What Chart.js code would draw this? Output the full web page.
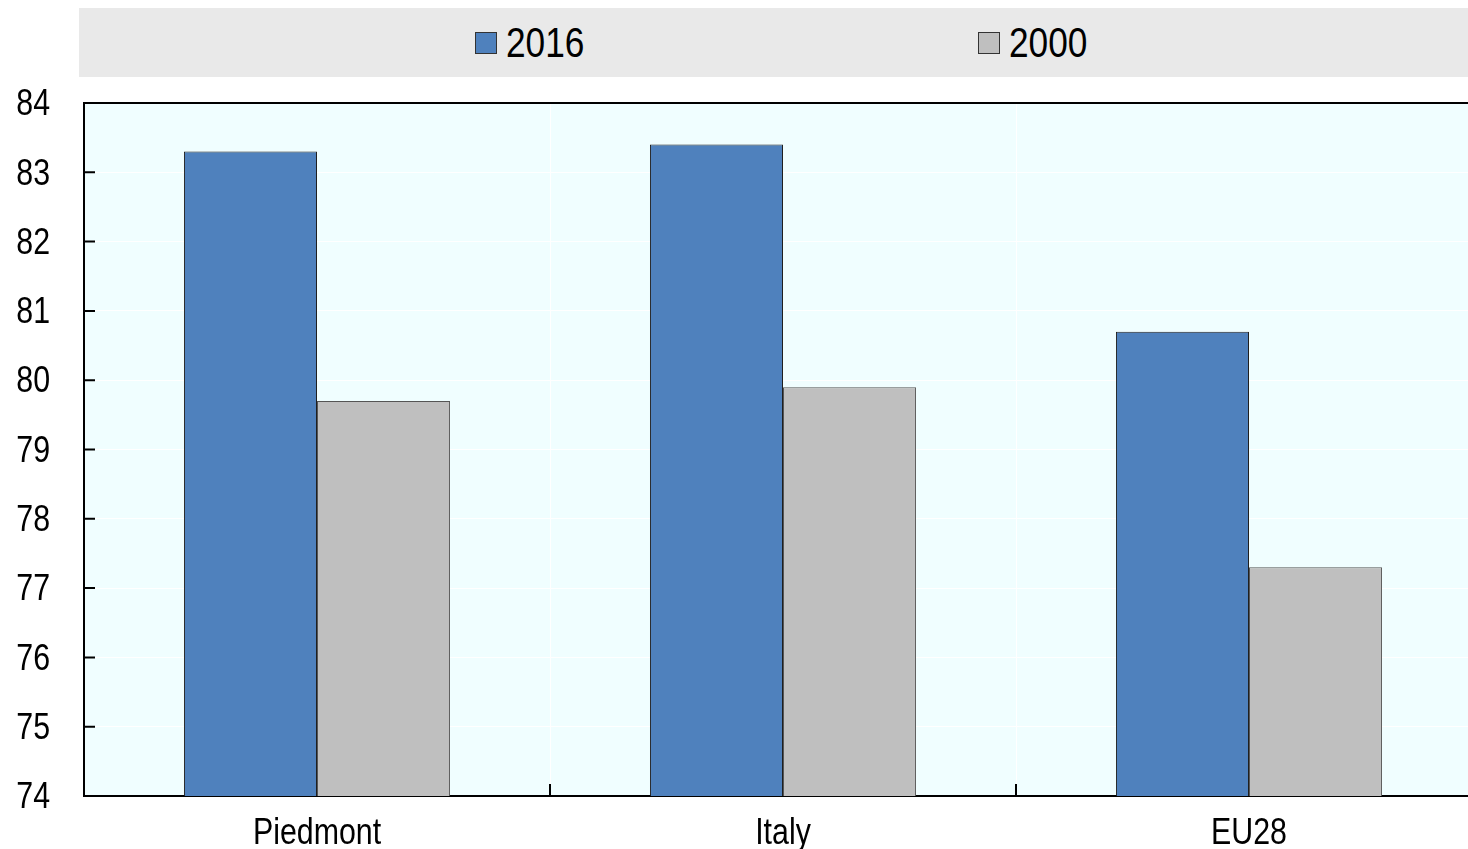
<!DOCTYPE html>
<html>
<head>
<meta charset="utf-8">
<title>Life expectancy</title>
<script src="https://cdn.jsdelivr.net/npm/chart.js@4.4.1/dist/chart.umd.min.js"></script>
<style>
  html, body { margin: 0; padding: 0; background: #fff; overflow: hidden; }
  #wrap { position: relative; width: 1484px; height: 849px; }
  #chart { position: absolute; left: 0; top: 0; }
  /* legend band above the plot */
  #legend {
    position: absolute; left: 79px; top: 8px; width: 1405px; height: 69px;
    background: #e9e9e9; font-family: "Liberation Sans", Arial, sans-serif;
    font-size: 43px; color: #000;
  }
  .item { position: absolute; top: 0; height: 69px; display: flex; align-items: center; }
  .swatch { width: 20px; height: 20px; margin-right: 9px; border: 1px solid #333; }
  .label { display: inline-block; transform: scaleX(0.82); transform-origin: left center; line-height: 1; }
</style>
</head>
<body>
<div id="wrap">
  <canvas id="chart" width="1484" height="849"></canvas>
  <div id="legend"></div>
</div>
<script>
// categorias y valores
const categories = ['Piedmont', 'Italy', 'EU28'];
const values2016 = [83.3, 83.4, 80.7];
const values2000 = [79.7, 79.9, 77.3];
const seriesNames = ['2016', '2000'];

const FONT = '"Liberation Sans", Arial, sans-serif';

const data = {
  labels: categories,
  datasets: [
    {
      label: seriesNames[0],
      data: values2016,
      backgroundColor: '#4f81bd',
      borderColor: '#1f1f1f',
      borderWidth: 1
    },
    {
      label: seriesNames[1],
      data: values2000,
      backgroundColor: '#bfbfbf',
      borderColor: '#555555',
      borderWidth: 1
    }
  ]
};

// texto estrecho: se comprime cada etiqueta alrededor de su punto de anclaje
const canvas = document.getElementById('chart');
const ctx2d = canvas.getContext('2d');
const baseFillText = ctx2d.fillText.bind(ctx2d);
ctx2d.fillText = function (text, x, y, maxWidth) {
  this.save();
  this.translate(x, y);
  this.scale(0.82, 1);
  baseFillText(text, 0, 0, maxWidth);
  this.restore();
};

// fondo del area del grafico, borde superior y marcas hacia adentro
const plotFrame = {
  id: 'plotFrame',
  beforeDraw(chart) {
    const { ctx, chartArea: a } = chart;
    ctx.save();
    ctx.fillStyle = '#f0feff';
    ctx.fillRect(a.left, a.top, a.right - a.left, a.bottom - a.top);
    ctx.restore();
  },
  afterDraw(chart) {
    const { ctx, chartArea: a, scales } = chart;
    ctx.save();
    ctx.strokeStyle = '#000';
    ctx.lineWidth = 2;
    ctx.beginPath();
    ctx.moveTo(a.left, a.top);
    ctx.lineTo(a.right, a.top);
    // marcas del eje y
    scales.y.ticks.forEach((t, i) => {
      const y = scales.y.getPixelForTick(i);
      ctx.moveTo(a.left, y);
      ctx.lineTo(a.left + 11, y);
    });
    // marcas entre categorias
    for (let i = 0; i < categories.length - 1; i++) {
      const x = (scales.x.getPixelForTick(i) + scales.x.getPixelForTick(i + 1)) / 2;
      ctx.moveTo(x, a.bottom);
      ctx.lineTo(x, a.bottom - 12);
    }
    ctx.stroke();
    ctx.restore();
  }
};

const config = {
  type: 'bar',
  data: data,
  options: {
    responsive: false,
    animation: false,
    layout: { padding: { top: 103, right: 2, bottom: 0, left: 0 } },
    categoryPercentage: 0.571,
    barPercentage: 1,
    plugins: {
      legend: { display: false },
      tooltip: { enabled: false }
    },
    scales: {
      x: {
        grid: { color: '#ffffff', lineWidth: 1, drawTicks: false, offset: true },
        border: { color: '#000', width: 2 },
        ticks: { color: '#000', font: { family: FONT, size: 37 }, padding: 16 },
        afterFit(scale) { scale.height = 53; }
      },
      y: {
        min: 74,
        max: 84,
        // separacion de etiquetas con marcas invisibles (las visibles van hacia adentro)
        grid: { color: '#ffffff', lineWidth: 1, drawTicks: true, tickLength: 34, tickColor: 'rgba(0,0,0,0)' },
        border: { color: '#000', width: 2 },
        ticks: { stepSize: 1, color: '#000', font: { family: FONT, size: 37 }, padding: 0, labelOffset: 2 },
        afterFit(scale) { scale.width = 84; }
      }
    }
  },
  plugins: [plotFrame]
};

const myChart = new Chart(canvas, config);

// leyenda en HTML a partir de los datasets
const legend = document.getElementById('legend');
data.datasets.forEach((ds, i) => {
  const item = document.createElement('div');
  item.className = 'item';
  item.style.left = (396 + i * 503) + 'px';
  const sw = document.createElement('span');
  sw.className = 'swatch';
  sw.style.background = ds.backgroundColor;
  const txt = document.createElement('span');
  txt.className = 'label';
  txt.textContent = ds.label;
  item.appendChild(sw);
  item.appendChild(txt);
  legend.appendChild(item);
});
</script>
</body>
</html>
